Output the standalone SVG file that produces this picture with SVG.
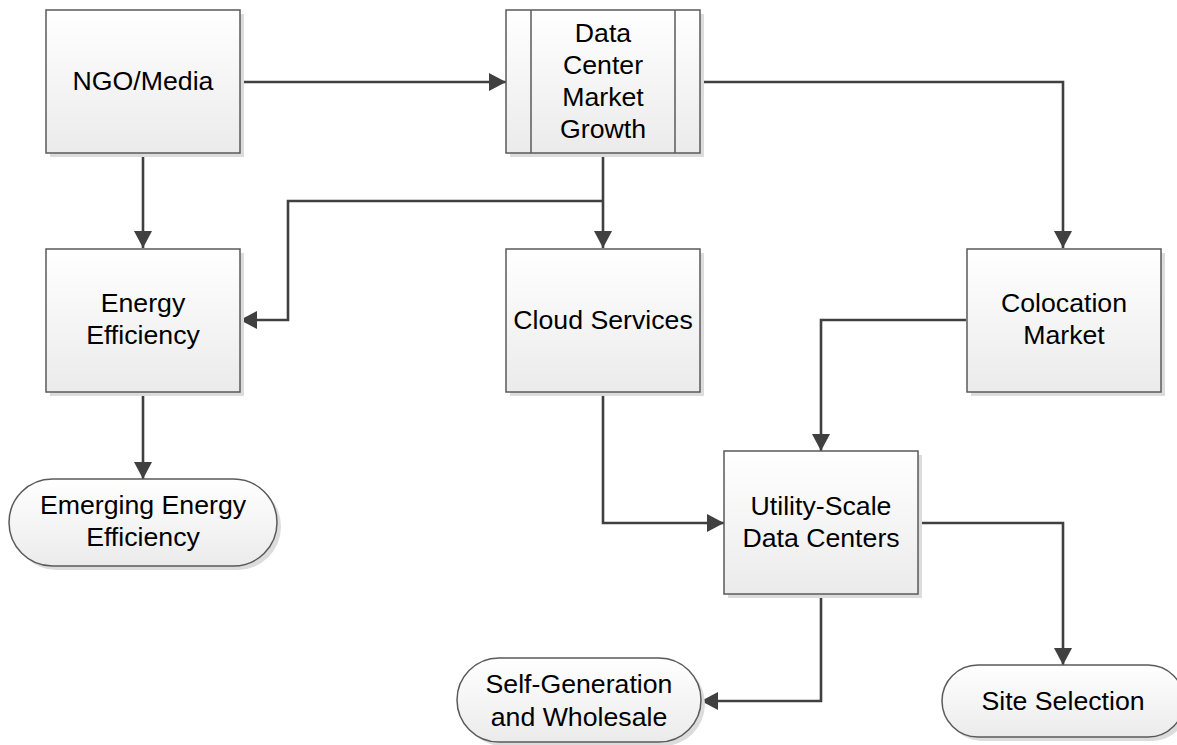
<svg xmlns="http://www.w3.org/2000/svg" width="1177" height="745" viewBox="0 0 1177 745">
<defs>
<linearGradient id="g" x1="0" y1="0" x2="0" y2="1">
<stop offset="0" stop-color="#ffffff"/>
<stop offset="1" stop-color="#ebebeb"/>
</linearGradient>
<marker id="a" viewBox="0 0 17 18" refX="17" refY="9" markerWidth="17" markerHeight="18" markerUnits="userSpaceOnUse" orient="auto">
<path d="M0,0 L17,9 L0,18 z" fill="#404040"/>
</marker>
</defs>
<style>
.sh{fill:#dcdcdc;stroke:none}
.bx{fill:url(#g);stroke:#5a5a5a;stroke-width:1.5}
.t{font-family:"Liberation Sans",Arial,sans-serif;font-size:26.7px;fill:#000;text-anchor:middle}
.c{fill:none;stroke:#404040;stroke-width:2.6;marker-end:url(#a)}
</style>
<rect width="1177" height="745" fill="#fff"/>

<g id="connectors">
<path class="c" d="M240,82 H506"/>
<path class="c" d="M143,153 V248"/>
<path class="c" d="M700,82 H1063 V248"/>
<path class="c" d="M603,153 V248"/>
<path class="c" d="M603,201 H288 V320 H240"/>
<path class="c" d="M143,392 V479"/>
<path class="c" d="M603,392 V523 H724"/>
<path class="c" d="M966,320 H821 V451"/>
<path class="c" d="M918,523 H1063 V665"/>
<path class="c" d="M821,594 V701 H701"/>
</g>

<g id="ngo">
<rect class="sh" x="50" y="14" width="194" height="143"/>
<rect class="bx" x="46" y="10" width="194" height="143"/>
<text class="t" x="143" y="90">NGO/Media</text>
</g>

<g id="dcmg">
<rect class="sh" x="510" y="14" width="194" height="143"/>
<rect class="bx" x="506" y="10" width="194" height="143"/>
<line x1="531" y1="10" x2="531" y2="153" stroke="#5a5a5a" stroke-width="1.5"/>
<line x1="675" y1="10" x2="675" y2="153" stroke="#5a5a5a" stroke-width="1.5"/>
<text class="t" x="603" y="42">Data</text>
<text class="t" x="603" y="74">Center</text>
<text class="t" x="603" y="106">Market</text>
<text class="t" x="603" y="138">Growth</text>
</g>

<g id="energy">
<rect class="sh" x="50" y="253" width="194" height="143"/>
<rect class="bx" x="46" y="249" width="194" height="143"/>
<text class="t" x="143" y="312">Energy</text>
<text class="t" x="143" y="344">Efficiency</text>
</g>

<g id="cloud">
<rect class="sh" x="510" y="253" width="194" height="143"/>
<rect class="bx" x="506" y="249" width="194" height="143"/>
<text class="t" x="603" y="329">Cloud Services</text>
</g>

<g id="colo">
<rect class="sh" x="971" y="253" width="194" height="143"/>
<rect class="bx" x="967" y="249" width="194" height="143"/>
<text class="t" x="1064" y="312">Colocation</text>
<text class="t" x="1064" y="344">Market</text>
</g>

<g id="utility">
<rect class="sh" x="728" y="455" width="194" height="143"/>
<rect class="bx" x="724" y="451" width="194" height="143"/>
<text class="t" x="821" y="515">Utility-Scale</text>
<text class="t" x="821" y="547">Data Centers</text>
</g>

<g id="emerging">
<rect class="sh" x="13" y="483" width="268" height="87" rx="43.5"/>
<rect class="bx" x="9" y="479" width="268" height="87" rx="43.5"/>
<text class="t" x="143" y="514">Emerging Energy</text>
<text class="t" x="143" y="546">Efficiency</text>
</g>

<g id="selfgen">
<rect class="sh" x="461" y="662" width="244" height="84" rx="42"/>
<rect class="bx" x="457" y="658" width="244" height="84" rx="42"/>
<text class="t" x="579" y="693">Self-Generation</text>
<text class="t" x="579" y="726">and Wholesale</text>
</g>

<g id="site">
<rect class="sh" x="946" y="669" width="242" height="72" rx="36"/>
<rect class="bx" x="942" y="665" width="242" height="72" rx="36"/>
<text class="t" x="1063" y="710">Site Selection</text>
</g>
</svg>
